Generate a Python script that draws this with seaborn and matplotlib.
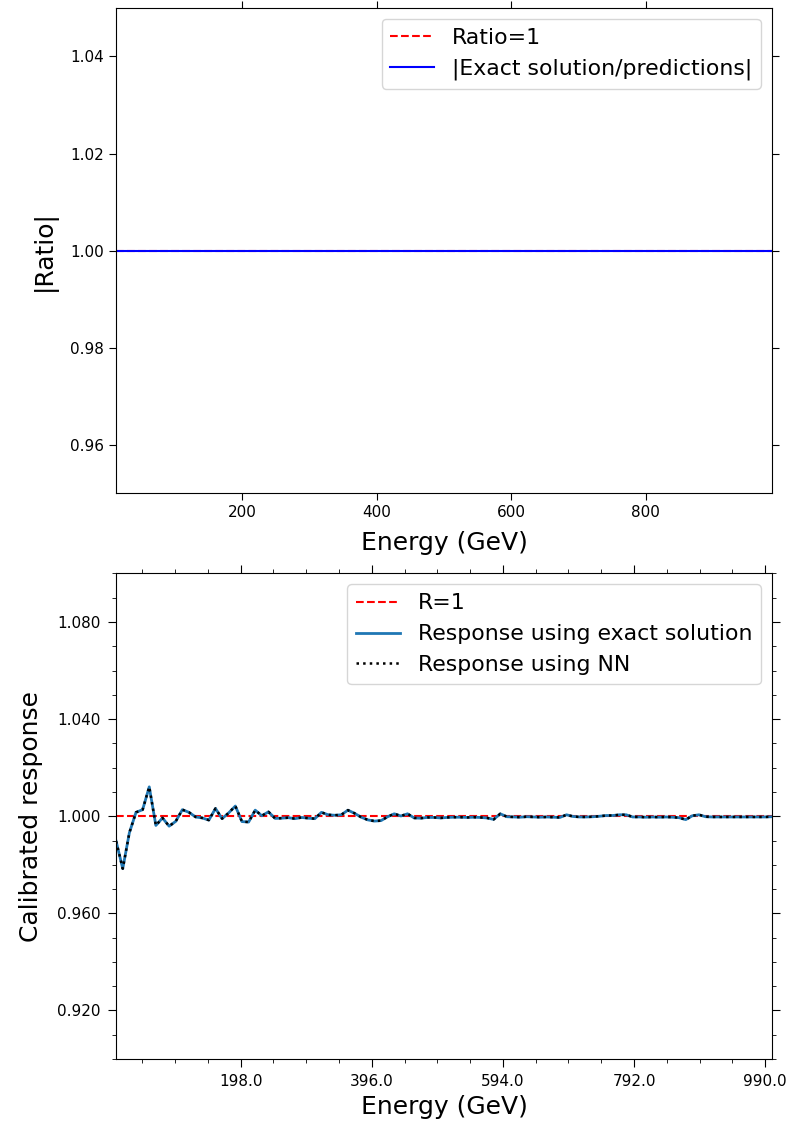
import numpy as np
import pandas as pd
import matplotlib
matplotlib.use("Agg")
import matplotlib.pyplot as plt
import seaborn as sns
from matplotlib.ticker import MultipleLocator, AutoMinorLocator, FormatStrFormatter

# ---- data ----
energy_top = [12.5 + 10 * i for i in range(98)] + [987.5]
ratio_one = [1.0] * len(energy_top)
ratio_exact_pred = [1.0] * len(energy_top)

energy = [10 * (i + 1) for i in range(100)]
exact_response = [
    0.9897, 0.9784, 0.9932, 1.0016, 1.0027, 1.0121, 0.9962, 0.9993, 0.9959, 0.9979,
    1.0027, 1.0016, 0.9997, 0.9993, 0.9984, 1.0032, 0.9990, 1.0014, 1.0042, 0.9978,
    0.9976, 1.0025, 1.0002, 1.0018, 0.9991, 0.9992, 0.9994, 0.9990, 0.9995, 0.9992,
    0.9990, 1.0016, 1.0006, 1.0004, 1.0006, 1.0025, 1.0012, 0.9996, 0.9985, 0.9980,
    0.9982, 0.9998, 1.0010, 1.0001, 1.0010, 0.9993, 0.9992, 0.9995, 0.9995, 0.9993,
    0.9995, 0.9996, 0.9996, 0.9995, 0.9996, 0.9995, 0.9993, 0.9987, 1.0010, 0.9998,
    0.9997, 0.9996, 0.9998, 0.9997, 0.9996, 0.9997, 0.9996, 0.9995, 1.0006, 0.9999,
    0.9997, 0.9997, 0.9998, 1.0000, 1.0003, 1.0003, 1.0006, 1.0006, 0.9997, 0.9997,
    0.9996, 0.9997, 0.9996, 0.9997, 0.9996, 0.9994, 0.9986, 1.0002, 1.0006, 0.9998,
    0.9997, 0.9997, 0.9997, 0.9997, 0.9997, 0.9997, 0.9997, 0.9997, 0.9997, 0.9998,
]
nn_response = list(exact_response)
r_one = [1.0] * len(energy)

top_xticks = [200, 400, 600, 800]
top_yticks = [0.96, 0.98, 1.00, 1.02, 1.04]
bot_xticks = [198.0, 396.0, 594.0, 792.0, 990.0]
bot_yticks = [0.920, 0.960, 1.000, 1.040, 1.080]

df_top = pd.DataFrame({"E": energy_top, "one": ratio_one, "ratio": ratio_exact_pred})
df_bot = pd.DataFrame({"E": energy, "one": r_one, "exact": exact_response, "nn": nn_response})

fig, (ax1, ax2) = plt.subplots(2, 1, figsize=(7.9, 11.23), dpi=100)
fig.subplots_adjust(left=0.147, right=0.977, top=0.993, bottom=0.057, hspace=0.165)

LABEL_FS = 18
LEGEND_FS = 15.8
TICK_FS = 11

# ---- top panel ----
sns.lineplot(data=df_top, x="E", y="one", ax=ax1, color="red", linestyle="--",
             label="Ratio=1", estimator=None, linewidth=1.5)
sns.lineplot(data=df_top, x="E", y="ratio", ax=ax1, color="blue", linestyle="-",
             label="|Exact solution/predictions|", estimator=None, linewidth=1.5)
ax1.set_xlim(min(energy_top), max(energy_top))
ax1.set_ylim(0.95, 1.05)
ax1.set_xticks(top_xticks)
ax1.set_yticks(top_yticks)
ax1.set_xlabel("Energy (GeV)", fontsize=LABEL_FS, labelpad=8)
ax1.set_ylabel("|Ratio|", fontsize=LABEL_FS, labelpad=10)
ax1.tick_params(direction="out", top=True, right=True, labelsize=TICK_FS, length=5)
ax1.legend(loc="upper right", fontsize=LEGEND_FS)

# ---- bottom panel ----
sns.lineplot(data=df_bot, x="E", y="one", ax=ax2, color="red", linestyle="--",
             label="R=1", estimator=None, linewidth=1.5)
sns.lineplot(data=df_bot, x="E", y="exact", ax=ax2, color="tab:blue", linestyle="-",
             label="Response using exact solution", estimator=None, linewidth=2)
sns.lineplot(data=df_bot, x="E", y="nn", ax=ax2, color="black", linestyle=":",
             label="Response using NN", estimator=None, linewidth=1.8)
ax2.set_xlim(min(energy), max(energy))
ax2.set_ylim(0.9, 1.1)
ax2.set_xticks(bot_xticks)
ax2.set_yticks(bot_yticks)
ax2.xaxis.set_major_formatter(FormatStrFormatter("%.1f"))
ax2.yaxis.set_major_formatter(FormatStrFormatter("%.3f"))
ax2.xaxis.set_minor_locator(AutoMinorLocator(4))
ax2.yaxis.set_minor_locator(AutoMinorLocator(4))
ax2.set_xlabel("Energy (GeV)", fontsize=LABEL_FS)
ax2.set_ylabel("Calibrated response", fontsize=LABEL_FS, labelpad=10)
ax2.tick_params(which="both", direction="out", top=True, right=True, labelsize=TICK_FS)
ax2.tick_params(which="major", length=6, pad=5)
ax2.tick_params(which="minor", length=3)
ax2.legend(loc="upper right", fontsize=LEGEND_FS)

fig.savefig("out.png", dpi=100)
